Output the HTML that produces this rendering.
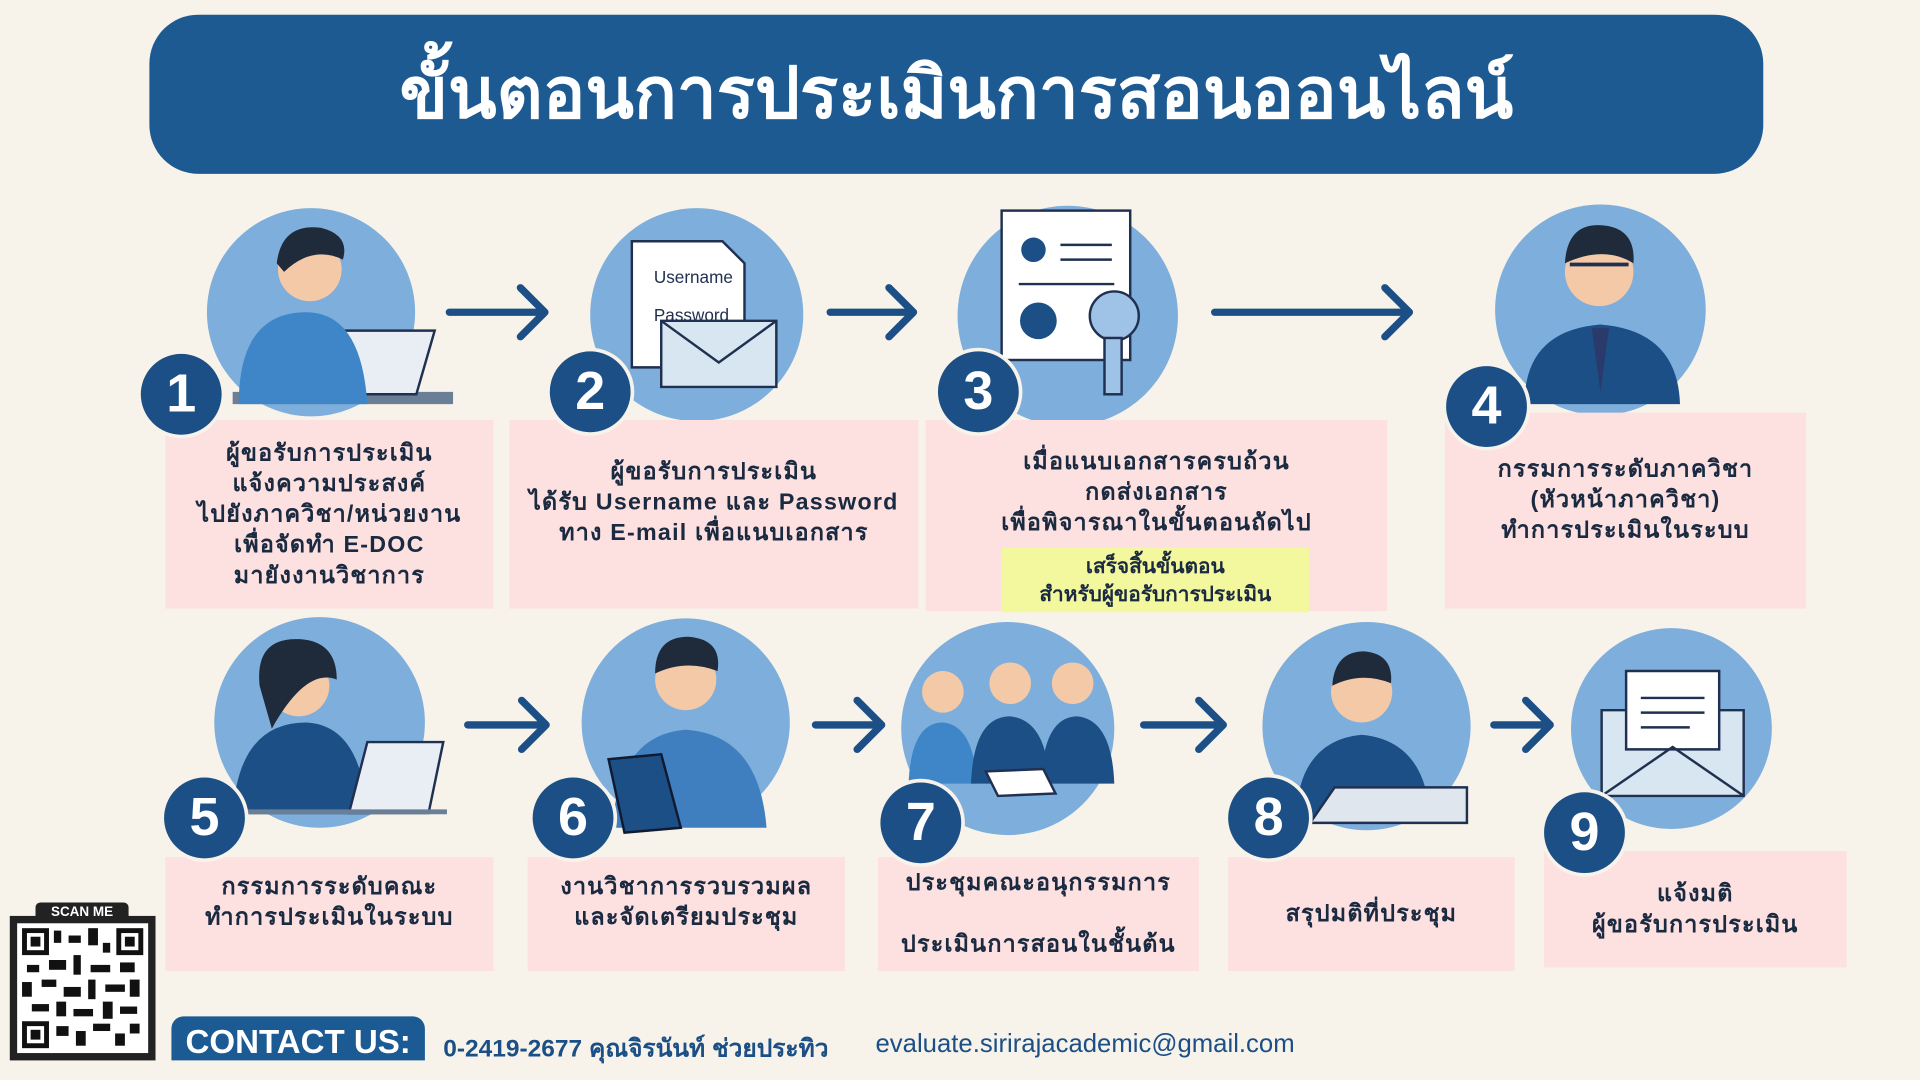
<!DOCTYPE html>
<html><head><meta charset="utf-8"><style>
html,body{margin:0;padding:0;width:1920px;height:1080px;overflow:hidden;background:#f7f3ea;}
#w{position:absolute;left:0;top:0;width:1568px;height:882px;transform:scale(1.22449);transform-origin:0 0;font-family:"Liberation Sans",sans-serif;}
.a{position:absolute;}
.title{left:122px;top:12px;width:1318px;height:130px;background:#1d5a92;border-radius:40px;color:#fff;font-size:58px;font-weight:900;text-align:center;line-height:130px;}
.pink{background:#fde0e0;color:#1a2a40;font-size:19px;font-weight:bold;text-align:center;display:flex;flex-direction:column;justify-content:center;line-height:25px;letter-spacing:1px;}
.c{border-radius:50%;background:#7eaedb;}
.n{border-radius:50%;background:#1b4f86;color:#fff;font-size:44px;font-weight:bold;width:66px;height:66px;line-height:66px;text-align:center;border:3px solid #f7f3ea;}
</style></head><body><div id="w">
<div class="a title">ขั้นตอนการประเมินการสอนออนไลน์</div>

<div class="a c" style="left:169px;top:170px;width:170px;height:170px"></div>
<div class="a c" style="left:482px;top:170px;width:174px;height:174px"></div>
<div class="a c" style="left:782px;top:168px;width:180px;height:180px"></div>
<div class="a c" style="left:1221px;top:167px;width:172px;height:172px"></div>
<div class="a c" style="left:175px;top:504px;width:172px;height:172px"></div>
<div class="a c" style="left:475px;top:505px;width:170px;height:170px"></div>
<div class="a c" style="left:736px;top:508px;width:174px;height:174px"></div>
<div class="a c" style="left:1031px;top:508px;width:170px;height:170px"></div>
<div class="a c" style="left:1283px;top:513px;width:164px;height:164px"></div>

<svg class="a" style="left:0;top:0" width="1568" height="882">
<g fill="#1b4f86">
<path d="M190 320 L370 320 L370 330 L190 330Z" fill="#6a7e96"/>
<path d="M282 270 L355 270 L340 322 L268 322Z" fill="#e8eef4" stroke="#203050" stroke-width="2"/>
<path d="M195 330 Q195 255 250 255 Q295 255 300 330Z" fill="#3f86c9"/>
<circle cx="253" cy="220" r="26" fill="#f4c9a8"/><path d="M226 215 Q230 182 262 186 Q286 192 280 212 Q255 200 232 222Z" fill="#1f2a3a"/>
<path d="M516 197 L590 197 L608 215 L608 300 L516 300Z" fill="#fff" stroke="#203050" stroke-width="2"/>
<text x="534" y="231" font-size="14" fill="#203050" font-family="Liberation Sans">Username</text>
<text x="534" y="262" font-size="14" fill="#203050" font-family="Liberation Sans">Password</text>
<path d="M540 262 L634 262 L634 316 L540 316Z" fill="#d8e6f2" stroke="#203050" stroke-width="2"/><path d="M540 262 L587 296 L634 262" fill="none" stroke="#203050" stroke-width="2"/>
<rect x="818" y="172" width="105" height="122" fill="#fff" stroke="#203050" stroke-width="2"/>
<circle cx="844" cy="204" r="10" fill="#1b4f86"/><path d="M866 200h42M866 212h42M832 232h78" stroke="#203050" stroke-width="2"/>
<circle cx="848" cy="262" r="15" fill="#1b4f86"/>
<circle cx="910" cy="258" r="20" fill="#9fc3e6" stroke="#203050" stroke-width="2"/><rect x="902" y="276" width="14" height="46" fill="#9fc3e6" stroke="#203050" stroke-width="2"/>
<path d="M1245 330 Q1245 270 1307 265 Q1370 270 1372 330Z" fill="#1b4f86"/><path d="M1300 268 L1307 320 L1314 268Z" fill="#2a3a6a"/>
<circle cx="1306" cy="222" r="28" fill="#f4c9a8"/><path d="M1278 215 Q1280 182 1308 184 Q1336 186 1334 215 Q1310 200 1278 215Z" fill="#1f2a3a"/>
<path d="M1282 216h48" stroke="#203050" stroke-width="3"/>
<path d="M190 665 Q195 590 250 590 Q295 592 300 665Z" fill="#1b4f86"/><circle cx="244" cy="560" r="25" fill="#f4c9a8"/><path d="M212 560 Q208 520 245 522 Q275 524 275 555 Q250 545 222 595 Z" fill="#1f2a3a"/>
<path d="M300 606 L362 606 L350 664 L285 664Z" fill="#e8eef4" stroke="#203050" stroke-width="2"/><path d="M200 663h165" stroke="#6a7e96" stroke-width="4"/>
<path d="M500 676 Q505 600 560 596 Q620 600 626 676Z" fill="#3f7fc0"/><circle cx="560" cy="555" r="25" fill="#f4c9a8"/><path d="M535 550 Q535 520 562 520 Q590 522 586 548 Q560 538 535 550Z" fill="#1f2a3a"/>
<path d="M497 620 L540 616 L556 676 L510 680Z" fill="#1b4f86" stroke="#101a30" stroke-width="2"/>
<path d="M742 640 Q744 590 770 590 Q795 592 798 640Z" fill="#3f86c9"/><path d="M793 640 Q795 585 825 585 Q855 588 857 640Z" fill="#1b4f86"/><path d="M850 640 Q852 585 880 585 Q908 588 910 640Z" fill="#1b4f86"/>
<circle cx="770" cy="565" r="17" fill="#f4c9a8"/><circle cx="825" cy="558" r="17" fill="#f4c9a8"/><circle cx="876" cy="558" r="17" fill="#f4c9a8"/>
<path d="M805 630 L852 628 L862 648 L815 650Z" fill="#fff" stroke="#203050" stroke-width="2"/>
<path d="M1058 670 Q1060 605 1112 600 Q1165 605 1168 670Z" fill="#1b4f86"/><circle cx="1112" cy="565" r="25" fill="#f4c9a8"/><path d="M1088 560 Q1090 532 1114 532 Q1138 534 1136 558 Q1112 548 1088 560Z" fill="#1f2a3a"/>
<path d="M1070 672 L1090 643 L1198 643 L1198 672Z" fill="#dfe6ee" stroke="#203050" stroke-width="2"/>
<path d="M1308 580 L1424 580 L1424 650 L1308 650Z" fill="#d8e6f2" stroke="#203050" stroke-width="2"/><path d="M1328 548 L1404 548 L1404 612 L1328 612Z" fill="#fff" stroke="#203050" stroke-width="2"/>
<path d="M1340 570h52M1340 582h52M1340 594h40" stroke="#203050" stroke-width="2"/><path d="M1308 650 L1366 610 L1424 650" fill="none" stroke="#203050" stroke-width="2"/>
</g>
<g stroke="#1b4f86" stroke-width="6" fill="none" stroke-linecap="round" stroke-linejoin="round">
<path d="M367 255H445M425 235L445 255L425 275"/>
<path d="M678 255H746M726 235L746 255L726 275"/>
<path d="M992 255H1151M1131 235L1151 255L1131 275"/>
<path d="M382 592H446M426 572L446 592L426 612"/>
<path d="M666 592H720M700 572L720 592L700 612"/>
<path d="M934 592H999M979 572L999 592L979 612"/>
<path d="M1220 592H1266M1246 572L1266 592L1246 612"/>
</g>
<rect x="8" y="748" width="119" height="118" fill="#222"/>
<rect x="14" y="754" width="107" height="106" fill="#fff"/>
<g fill="#111">
<rect x="18" y="758" width="22" height="22"/><rect x="95" y="758" width="22" height="22"/><rect x="18" y="834" width="22" height="22"/>
<rect x="44" y="760" width="6" height="10"/><rect x="56" y="764" width="10" height="6"/><rect x="72" y="758" width="8" height="14"/><rect x="84" y="770" width="6" height="8"/>
<rect x="22" y="788" width="10" height="6"/><rect x="40" y="784" width="14" height="8"/><rect x="60" y="780" width="6" height="16"/><rect x="74" y="788" width="16" height="6"/><rect x="98" y="786" width="12" height="8"/>
<rect x="18" y="802" width="8" height="12"/><rect x="34" y="800" width="12" height="6"/><rect x="52" y="806" width="14" height="8"/><rect x="72" y="800" width="6" height="16"/><rect x="86" y="804" width="16" height="6"/><rect x="106" y="800" width="8" height="14"/>
<rect x="26" y="820" width="14" height="6"/><rect x="46" y="818" width="8" height="12"/><rect x="60" y="824" width="16" height="6"/><rect x="84" y="818" width="8" height="14"/><rect x="98" y="822" width="14" height="6"/>
<rect x="46" y="838" width="10" height="8"/><rect x="62" y="842" width="8" height="12"/><rect x="76" y="836" width="14" height="6"/><rect x="94" y="844" width="8" height="10"/><rect x="106" y="836" width="8" height="8"/>
</g>
<g fill="#fff"><rect x="22" y="762" width="14" height="14"/><rect x="99" y="762" width="14" height="14"/><rect x="22" y="838" width="14" height="14"/></g>
<g fill="#111"><rect x="25" y="765" width="8" height="8"/><rect x="102" y="765" width="8" height="8"/><rect x="25" y="841" width="8" height="8"/></g>
</svg>

<div class="a pink" style="left:135px;top:343px;width:268px;height:154px">ผู้ขอรับการประเมิน<br>แจ้งความประสงค์<br>ไปยังภาควิชา/หน่วยงาน<br>เพื่อจัดทำ E-DOC<br>มายังงานวิชาการ</div>
<div class="a pink" style="left:416px;top:343px;width:334px;height:154px;justify-content:flex-start;padding-top:30px;box-sizing:border-box">ผู้ขอรับการประเมิน<br>ได้รับ Username และ Password<br>ทาง E-mail เพื่อแนบเอกสาร</div>
<div class="a pink" style="left:756px;top:343px;width:377px;height:156px;justify-content:flex-start;padding-top:22px;box-sizing:border-box">เมื่อแนบเอกสารครบถ้วน<br>กดส่งเอกสาร<br>เพื่อพิจารณาในขั้นตอนถัดไป</div>
<div class="a" style="left:818px;top:447px;width:251px;height:53px;background:#f3f79e;color:#1a2a40;font-weight:bold;font-size:17px;text-align:center;line-height:23px;padding-top:4px;box-sizing:border-box">เสร็จสิ้นขั้นตอน<br>สำหรับผู้ขอรับการประเมิน</div>
<div class="a pink" style="left:1180px;top:337px;width:295px;height:160px;justify-content:flex-start;padding-top:34px;box-sizing:border-box">กรรมการระดับภาควิชา<br>(หัวหน้าภาควิชา)<br>ทำการประเมินในระบบ</div>
<div class="a pink" style="left:135px;top:700px;width:268px;height:93px;justify-content:flex-start;padding-top:12px;box-sizing:border-box">กรรมการระดับคณะ<br>ทำการประเมินในระบบ</div>
<div class="a pink" style="left:431px;top:700px;width:259px;height:93px;justify-content:flex-start;padding-top:12px;box-sizing:border-box">งานวิชาการรวบรวมผล<br>และจัดเตรียมประชุม</div>
<div class="a pink" style="left:717px;top:700px;width:262px;height:93px;line-height:50px">ประชุมคณะอนุกรรมการ<br>ประเมินการสอนในชั้นต้น</div>
<div class="a pink" style="left:1003px;top:700px;width:234px;height:93px">สรุปมติที่ประชุม</div>
<div class="a pink" style="left:1261px;top:695px;width:247px;height:95px">แจ้งมติ<br>ผู้ขอรับการประเมิน</div>

<div class="a n" style="left:112px;top:286px">1</div>
<div class="a n" style="left:446px;top:284px">2</div>
<div class="a n" style="left:763px;top:284px">3</div>
<div class="a n" style="left:1178px;top:296px">4</div>
<div class="a n" style="left:131px;top:632px">5</div>
<div class="a n" style="left:432px;top:632px">6</div>
<div class="a n" style="left:716px;top:636px">7</div>
<div class="a n" style="left:1000px;top:632px">8</div>
<div class="a n" style="left:1258px;top:644px">9</div>

<div class="a" style="left:29px;top:737px;width:76px;height:16px;background:#222;border-radius:4px 4px 0 0;color:#fff;font-size:11px;font-weight:bold;text-align:center;line-height:16px">SCAN ME</div>
<div class="a" style="left:140px;top:830px;width:207px;height:36px;background:#1b5a92;border-radius:10px 10px 0 0;color:#fff;font-size:27px;font-weight:bold;text-align:center;line-height:42px">CONTACT US:</div>
<div class="a" style="left:362px;top:840px;color:#1b4f86;font-size:20px;font-weight:bold">0-2419-2677 คุณจิรนันท์ ช่วยประทิว</div>
<div class="a" style="left:715px;top:841px;color:#1b4f86;font-size:21px">evaluate.sirirajacademic@gmail.com</div>
</div></body></html>
